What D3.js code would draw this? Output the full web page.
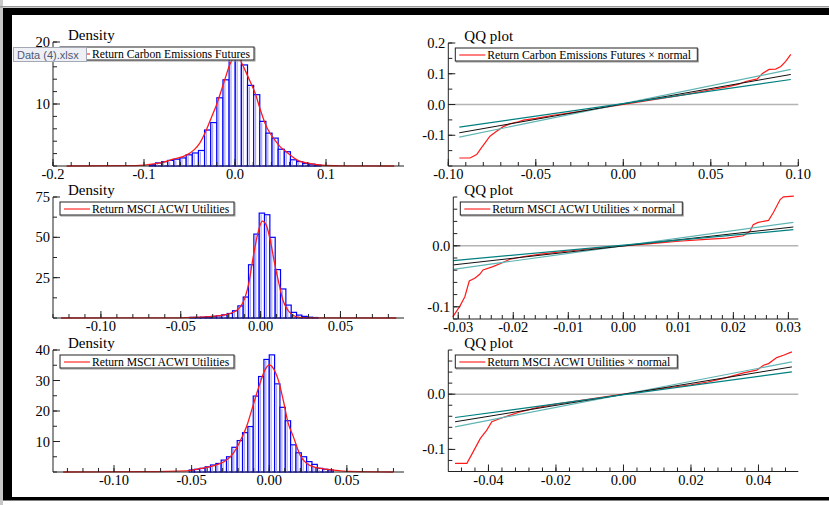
<html>
<meta charset="utf-8">
<style>
body { margin: 0; background: #fff; }
text { font-family: "Liberation Serif", "DejaVu Serif", serif; }
.tick-label { font-size: 14.5px; }
.title { font-size: 15px; }
.legend-text { font-size: 11.7px; }
.tip { font-family: "Liberation Sans", Arial, sans-serif; font-size: 11px; fill: #4e5874; }
</style>
<body>
<script src="https://cdn.jsdelivr.net/npm/d3@7"></script>
<script>

/*******************
 data
********************/

// histogram 1: Return Carbon Emissions Futures
var hist1Start = -0.0941,
    hist1Width = 0.00674;
var hist1Density = [0.2, 0.5, 0.7, 0.9, 1.1, 1.3, 1.8, 2.1, 2.5, 5.8, 7.0, 11.0, 13.9, 17.2,
                    18.9, 16.3, 13.0, 11.5, 7.2, 5.3, 4.5, 2.7, 2.3, 1.0, 0.7, 0.4, 0.3, 0.15];
var kde1 = [[-0.185, 0], [-0.12, 0.05], [-0.1, 0.15], [-0.09, 0.35], [-0.082, 0.5], [-0.068, 1.1],
            [-0.053, 1.8], [-0.045, 2.6], [-0.0387, 3.7], [-0.0315, 5.8], [-0.026, 7.8], [-0.021, 9.6],
            [-0.015, 12.2], [-0.010, 14.5], [-0.005, 16.6], [0.001, 17.6], [0.005, 17.2], [0.0115, 15.3],
            [0.017, 13.5], [0.022, 11.8], [0.028, 9.0], [0.033, 6.9], [0.038, 5.4], [0.0437, 4.2],
            [0.049, 3.2], [0.0545, 2.5], [0.062, 1.6], [0.069, 0.9], [0.08, 0.45], [0.09, 0.2],
            [0.1, 0.08], [0.12, 0.02], [0.175, 0]];

// histogram 2: Return MSCI ACWI Utilities
var hist2Start = -0.0443,
    hist2Width = 0.00334;
var hist2Density = [0.4, 0.3, 0.5, 0.8, 1.0, 1.3, 2.0, 2.8, 4.5, 7.5, 13.0, 33.0, 52.0,
                    65.0, 64.0, 50.0, 30.0, 18.0, 8.0, 3.5, 1.8, 1.0, 0.5, 0.3];
var kde2 = [[-0.125, 0], [-0.06, 0.05], [-0.0422, 0.4], [-0.0299, 1.0], [-0.0193, 2.7], [-0.0131, 6.4],
            [-0.0100, 12], [-0.0073, 22], [-0.0048, 36.8], [-0.0023, 50], [0.0011, 60], [0.0036, 57.4],
            [0.0061, 48], [0.0088, 33.7], [0.0115, 21.3], [0.0140, 11], [0.0171, 4.8], [0.0203, 1.7],
            [0.0245, 0.4], [0.035, 0.05], [0.085, 0]];

// histogram 3: Return MSCI ACWI Utilities
var hist3Start = -0.0516,
    hist3Width = 0.00344;
var hist3Density = [0.65, 0.9, 1.2, 1.7, 2.3, 2.8, 3.9, 5.0, 8.1, 10.3, 12.9, 14.9, 24.9, 31.3, 36.9,
                    38.4, 28.9, 21.2, 16.8, 8.9, 6.3, 5.0, 3.4, 2.5, 1.2, 0.9, 0.65];
var kde3 = [[-0.1327, 0], [-0.08, 0.1], [-0.0532, 0.4], [-0.0447, 1.1], [-0.0361, 2.0], [-0.0275, 3.9],
            [-0.0232, 6.1], [-0.0189, 9.9], [-0.0146, 14.9], [-0.0103, 22], [-0.0060, 29], [-0.0028, 33.4],
            [0.0000, 35.1], [0.0026, 34], [0.0058, 30.2], [0.0090, 23.6], [0.0122, 16], [0.0155, 11.6],
            [0.0198, 5.6], [0.0241, 2.8], [0.0305, 1.4], [0.0413, 0.65], [0.052, 0.2], [0.0799, 0]];

// QQ plots: sample quantiles against normal
var qq1Red = [[-0.0937, -0.174], [-0.0876, -0.174], [-0.0838, -0.163], [-0.0810, -0.140], [-0.0790, -0.125],
              [-0.0762, -0.103], [-0.0724, -0.087], [-0.0686, -0.072], [-0.0648, -0.063], [-0.060, -0.056],
              [-0.057, -0.051], [-0.050, -0.045], [-0.045, -0.040], [-0.040, -0.035], [-0.030, -0.027],
              [-0.020, -0.018], [-0.010, -0.009], [0, 0], [0.010, 0.009], [0.020, 0.018], [0.030, 0.027],
              [0.040, 0.037], [0.050, 0.048], [0.060, 0.058], [0.066, 0.066], [0.0699, 0.0749],
              [0.0766, 0.0831], [0.0795, 0.101], [0.0833, 0.114], [0.0871, 0.115], [0.09, 0.1238],
              [0.0928, 0.140], [0.0957, 0.163]];
var qq1Black = [[-0.0937, -0.092], [0.0957, 0.0977]];
var qq1Teal = [[-0.0937, -0.0738], [0.0957, 0.0814]];
var qq1LightTeal = [[-0.0937, -0.106], [0.0957, 0.114]];

var qq2Red = [[-0.0310, -0.1165], [-0.0297, -0.0989], [-0.0288, -0.0835], [-0.0280, -0.0577], [-0.0270, -0.0533],
              [-0.0261, -0.0467], [-0.0255, -0.0396], [-0.0237, -0.0341], [-0.0222, -0.0286], [-0.0206, -0.0220],
              [-0.018, -0.0175], [-0.015, -0.0135], [-0.010, -0.0085], [-0.005, -0.004], [0, 0], [0.005, 0.0035],
              [0.010, 0.0075], [0.015, 0.0105], [0.0188, 0.0126], [0.0218, 0.0165], [0.0230, 0.0236],
              [0.0236, 0.0346], [0.0245, 0.0384], [0.0264, 0.0417], [0.0273, 0.0549], [0.0285, 0.0758],
              [0.0291, 0.0802], [0.0310, 0.0813]];
var qq2Black = [[-0.0309, -0.0313], [0.0309, 0.0308]];
var qq2Teal = [[-0.0309, -0.0242], [0.0309, 0.0264]];
var qq2LightTeal = [[-0.0309, -0.0385], [0.0309, 0.0384]];

var qq3Red = [[-0.0499, -0.1253], [-0.0464, -0.1253], [-0.0449, -0.1085], [-0.0424, -0.0801], [-0.0405, -0.0651],
              [-0.0390, -0.0500], [-0.0365, -0.0440], [-0.0336, -0.0380], [-0.030, -0.0310], [-0.025, -0.0235],
              [-0.020, -0.0180], [-0.015, -0.0135], [-0.010, -0.009], [-0.005, -0.0045], [0, 0], [0.005, 0.0045],
              [0.010, 0.009], [0.015, 0.013], [0.020, 0.017], [0.025, 0.022], [0.030, 0.029], [0.0356, 0.0386],
              [0.0395, 0.0434], [0.0415, 0.0524], [0.043, 0.0554], [0.0454, 0.0663], [0.0474, 0.0705],
              [0.0499, 0.0765]];
var qq3Black = [[-0.0499, -0.0500], [0.0499, 0.0494]];
var qq3Teal = [[-0.0499, -0.0422], [0.0499, 0.0404]];
var qq3LightTeal = [[-0.0499, -0.0591], [0.0499, 0.0585]];

// tick values and their labels
var h1XTicks = [-0.2, -0.1, 0.0, 0.1],          h1XLabels = ['-0.2', '-0.1', '0.0', '0.1'];
var h1YTicks = [10, 20],                        h1YLabels = ['10', '20'];
var h2XTicks = [-0.10, -0.05, 0.00, 0.05],      h2XLabels = ['-0.10', '-0.05', '0.00', '0.05'];
var h2YTicks = [25, 50, 75],                    h2YLabels = ['25', '50', '75'];
var h3XTicks = [-0.10, -0.05, 0.00, 0.05],      h3XLabels = ['-0.10', '-0.05', '0.00', '0.05'];
var h3YTicks = [10, 20, 30, 40],                h3YLabels = ['10', '20', '30', '40'];
var q1XTicks = [-0.10, -0.05, 0.00, 0.05, 0.10], q1XLabels = ['-0.10', '-0.05', '0.00', '0.05', '0.10'];
var q1YTicks = [-0.1, 0.0, 0.1, 0.2],           q1YLabels = ['-0.1', '0.0', '0.1', '0.2'];
var q2XTicks = [-0.03, -0.02, -0.01, 0.00, 0.01, 0.02, 0.03],
    q2XLabels = ['-0.03', '-0.02', '-0.01', '0.00', '0.01', '0.02', '0.03'];
var q2YTicks = [-0.1, 0.0],                     q2YLabels = ['-0.1', '0.0'];
var q3XTicks = [-0.04, -0.02, 0.00, 0.02, 0.04], q3XLabels = ['-0.04', '-0.02', '0.00', '0.02', '0.04'];
var q3YTicks = [-0.1, 0.0],                     q3YLabels = ['-0.1', '0.0'];

/*******************
 layout
********************/
var width = 829, height = 505;

var svg = d3.select("body").append("svg")
    .attr("width", width)
    .attr("height", height);

svg.append("rect").attr("width", width).attr("height", height).attr("fill", "#fff");

function minorTicks(domain, step) {
    var out = [];
    var k0 = Math.ceil(domain[0] / step - 1e-6), k1 = Math.floor(domain[1] / step + 1e-6);
    for (var k = k0; k <= k1; k++) out.push(k * step);
    return out;
}

function frame(g, x, y, o) {
    var r = x.range(), b = y.range();
    // axis lines
    g.append("line").attr("x1", r[0]).attr("x2", r[1]).attr("y1", b[0]).attr("y2", b[0])
        .attr("stroke", "#222").attr("stroke-width", 1);
    g.append("line").attr("x1", r[0]).attr("x2", r[0]).attr("y1", b[0]).attr("y2", b[1])
        .attr("stroke", "#222").attr("stroke-width", 1);
    // x ticks, drawn upward
    g.selectAll(null).data(minorTicks(x.domain(), o.xMinor)).enter().append("line")
        .attr("x1", x).attr("x2", x).attr("y1", b[0]).attr("y2", b[0] - 4)
        .attr("stroke", "#222");
    g.selectAll(null).data(o.xTicks).enter().append("line")
        .attr("x1", x).attr("x2", x).attr("y1", b[0]).attr("y2", b[0] - 7)
        .attr("stroke", "#222");
    g.selectAll(null).data(o.xTicks).enter().append("text")
        .attr("class", "tick-label")
        .attr("x", x).attr("y", b[0] + 13)
        .attr("text-anchor", "middle")
        .text(function(d, i) { return o.xLabels[i]; });
    // y ticks, drawn rightward
    g.selectAll(null).data(minorTicks(y.domain(), o.yMinor)).enter().append("line")
        .attr("x1", r[0]).attr("x2", r[0] + 4).attr("y1", y).attr("y2", y)
        .attr("stroke", "#222");
    g.selectAll(null).data(o.yTicks).enter().append("line")
        .attr("x1", r[0]).attr("x2", r[0] + 7).attr("y1", y).attr("y2", y)
        .attr("stroke", "#222");
    g.selectAll(null).data(o.yTicks).enter().append("text")
        .attr("class", "tick-label")
        .attr("x", r[0] - 3).attr("y", function(d) { return y(d) + 5; })
        .attr("text-anchor", "end")
        .text(function(d, i) { return o.yLabels[i]; });
    // title
    g.append("text").attr("class", "title")
        .attr("x", r[0] + o.titleDx).attr("y", b[1] - 2)
        .text(o.title);
    // legend
    var lx = r[0] + 7, ly = b[1] + 5;
    g.append("rect").attr("x", lx + 1).attr("y", ly + 1).attr("width", o.legendW).attr("height", 13)
        .attr("fill", "none").attr("stroke", "#999").attr("stroke-width", 1);
    g.append("rect").attr("x", lx).attr("y", ly).attr("width", o.legendW).attr("height", 13)
        .attr("fill", "#fff").attr("stroke", "#222").attr("stroke-width", 1);
    g.append("line").attr("x1", lx + 4).attr("x2", lx + 30).attr("y1", ly + 7).attr("y2", ly + 7)
        .attr("stroke", "#f00");
    g.append("text").attr("class", "legend-text")
        .attr("x", lx + 32).attr("y", ly + 10.5)
        .text(o.legend);
}

function histogram(o) {
    var g = svg.append("g");
    var x = d3.scaleLinear().domain(o.xDomain).range([53, 404]);
    var y = d3.scaleLinear().domain(o.yDomain).range([o.bottom, o.top]);

    var bars = g.append("g");
    bars.selectAll("rect.out").data(o.density).enter().append("rect")
        .attr("x", function(d, i) { return x(o.start + i * o.width); })
        .attr("y", function(d) { return y(d); })
        .attr("width", function(d, i) { return x(o.start + (i + 1) * o.width) - x(o.start + i * o.width); })
        .attr("height", function(d) { return y(0) - y(d); })
        .attr("fill", "#fff")
        .attr("stroke", "#0000ff").attr("stroke-width", 1.2);
    bars.selectAll("rect.in").data(o.density).enter().append("rect")
        .attr("x", function(d, i) { return x(o.start + i * o.width) + 1.3; })
        .attr("y", function(d) { return y(d) + 1.3; })
        .attr("width", 1.2)
        .attr("height", function(d) { return Math.max(0, y(0) - y(d) - 1.3); })
        .attr("fill", "#a8a8ff");

    g.append("path").datum(o.kde)
        .attr("fill", "none").attr("stroke", "#ff1a1a").attr("stroke-width", 1.3)
        .attr("d", d3.line().curve(d3.curveMonotoneX)
            .x(function(d) { return x(d[0]); }).y(function(d) { return y(d[1]); }));

    frame(g, x, y, o);
}

function qq(o) {
    var g = svg.append("g");
    var x = d3.scaleLinear().domain(o.xDomain).range([o.left, 798.3]);
    var y = d3.scaleLinear().domain(o.yDomain).range([o.bottom, o.top]);
    var line = d3.line().x(function(d) { return x(d[0]); }).y(function(d) { return y(d[1]); });

    g.append("line").attr("x1", x.range()[0]).attr("x2", x.range()[1]).attr("y1", y(0)).attr("y2", y(0))
        .attr("stroke", "#b4b4b4").attr("stroke-width", 1.5);
    g.append("path").datum(o.red).attr("fill", "none").attr("stroke", "#ff1a1a").attr("stroke-width", 1.2)
        .attr("d", line);
    g.append("path").datum(o.lightTeal).attr("fill", "none").attr("stroke", "#5fb4b4").attr("stroke-width", 1.2)
        .attr("d", line);
    g.append("path").datum(o.black).attr("fill", "none").attr("stroke", "#111").attr("stroke-width", 1)
        .attr("d", line);
    g.append("path").datum(o.teal).attr("fill", "none").attr("stroke", "#008080").attr("stroke-width", 1.2)
        .attr("d", line);

    frame(g, x, y, o);
}

histogram({
    start: hist1Start, width: hist1Width, density: hist1Density, kde: kde1,
    xDomain: [-0.2, 0.1857], yDomain: [0, 20], top: 42, bottom: 166,
    xTicks: h1XTicks, xLabels: h1XLabels, xMinor: 0.02,
    yTicks: h1YTicks, yLabels: h1YLabels, yMinor: 2,
    title: "Density", titleDx: 15,
    legend: "Return Carbon Emissions Futures", legendW: 194
});
histogram({
    start: hist2Start, width: hist2Width, density: hist2Density, kde: kde2,
    xDomain: [-0.1300, 0.0898], yDomain: [0, 75], top: 197, bottom: 318,
    xTicks: h2XTicks, xLabels: h2XLabels, xMinor: 0.01,
    yTicks: h2YTicks, yLabels: h2YLabels, yMinor: 12.5,
    title: "Density", titleDx: 15,
    legend: "Return MSCI ACWI Utilities", legendW: 174
});
histogram({
    start: hist3Start, width: hist3Width, density: hist3Density, kde: kde3,
    xDomain: [-0.1393, 0.0868], yDomain: [0, 40], top: 350, bottom: 472,
    xTicks: h3XTicks, xLabels: h3XLabels, xMinor: 0.01,
    yTicks: h3YTicks, yLabels: h3YLabels, yMinor: 5,
    title: "Density", titleDx: 15,
    legend: "Return MSCI ACWI Utilities", legendW: 174
});

qq({
    red: qq1Red, black: qq1Black, teal: qq1Teal, lightTeal: qq1LightTeal,
    left: 448.3, xDomain: [-0.10, 0.10], yDomain: [-0.2, 0.2], top: 43, bottom: 166,
    xTicks: q1XTicks, xLabels: q1XLabels, xMinor: 0.01,
    yTicks: q1YTicks, yLabels: q1YLabels, yMinor: 0.05,
    title: "QQ plot", titleDx: 16,
    legend: "Return Carbon Emissions Futures \u00d7 normal", legendW: 242
});
qq({
    red: qq2Red, black: qq2Black, teal: qq2Teal, lightTeal: qq2LightTeal,
    left: 453.3, xDomain: [-0.0309, 0.0318], yDomain: [-0.12, 0.08], top: 197, bottom: 319,
    xTicks: q2XTicks, xLabels: q2XLabels, xMinor: 0.002,
    yTicks: q2YTicks, yLabels: q2YLabels, yMinor: 0.02,
    title: "QQ plot", titleDx: 11,
    legend: "Return MSCI ACWI Utilities \u00d7 normal", legendW: 222
});
qq({
    red: qq3Red, black: qq3Black, teal: qq3Teal, lightTeal: qq3LightTeal,
    left: 448.3, xDomain: [-0.0519, 0.0518], yDomain: [-0.14, 0.08], top: 350, bottom: 471.5,
    xTicks: q3XTicks, xLabels: q3XLabels, xMinor: 0.004,
    yTicks: q3YTicks, yLabels: q3YLabels, yMinor: 0.02,
    title: "QQ plot", titleDx: 16,
    legend: "Return MSCI ACWI Utilities \u00d7 normal", legendW: 222
});

/* window frame around the graphics */
svg.append("rect").attr("x", 0).attr("y", 0).attr("width", 3).attr("height", height).attr("fill", "#c8c8c8");
svg.append("rect").attr("x", 0).attr("y", 6).attr("width", width).attr("height", 1.5).attr("fill", "#999");
svg.append("rect").attr("x", 3).attr("y", 8).attr("width", width).attr("height", 7).attr("fill", "#000");
svg.append("rect").attr("x", 3).attr("y", 8).attr("width", 9).attr("height", 492).attr("fill", "#000");
svg.append("rect").attr("x", 3).attr("y", 497).attr("width", width).attr("height", 3.5).attr("fill", "#000");

/* file name tooltip */
svg.append("rect").attr("x", 13.5).attr("y", 47.5).attr("width", 73).attr("height", 14)
    .attr("fill", "#eef0f5").attr("stroke", "#a4a8b4");
svg.append("text").attr("class", "tip").attr("x", 17).attr("y", 58.5)
    .text("Data (4).xlsx");
</script>
</html>
